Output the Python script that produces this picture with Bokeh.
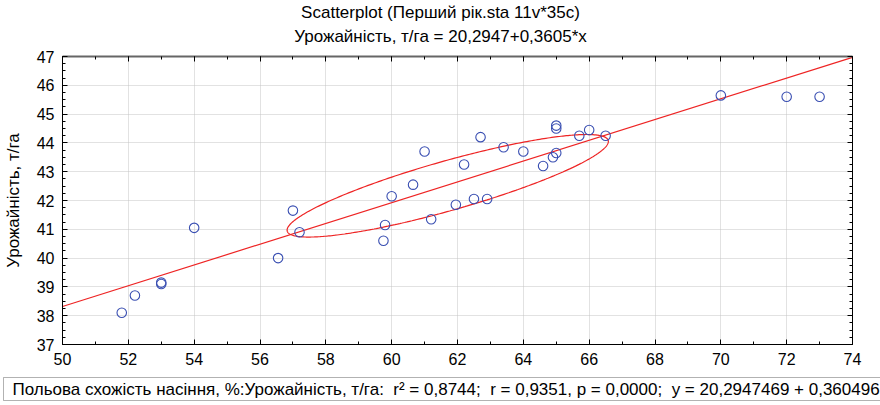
import numpy as np
from bokeh.plotting import figure
from bokeh.layouts import column
from bokeh.models import Range1d, LinearAxis, FixedTicker, Label, BoxAnnotation
from bokeh.embed import file_html
from bokeh.resources import INLINE

# ---- data ----
germination = [51.8, 52.2, 53.0, 53.0, 54.0, 56.55, 57.0, 57.2, 59.75, 59.8,
               60.0, 60.65, 61.0, 61.2, 61.95, 62.2, 62.5, 62.7, 62.9, 63.4,
               64.0, 64.6, 64.9, 65.0, 65.0, 65.0, 65.7, 66.0, 66.5, 70.0,
               72.0, 73.0]
yield_t = [38.1, 38.7, 39.1, 39.15, 41.05, 40.0, 41.65, 40.9, 40.6, 41.15,
           42.15, 42.55, 43.7, 41.35, 41.85, 43.25, 42.05, 44.2, 42.05, 43.85,
           43.7, 43.2, 43.5, 43.65, 44.5, 44.6, 44.25, 44.45, 44.25, 45.65,
           45.6, 45.6]

# regression line (from the chart's caption)
intercept = 20.2947
slope = 0.3605

# ellipse shape (centred on the data means)
ellipse_half_x = 4.88
ellipse_half_y = 1.78
ellipse_r = 0.865

x_ticks = list(range(50, 76, 2))
x_minor = list(range(50, 75, 1))
y_ticks = list(range(37, 48))
y_minor = [37 + 0.25 * i for i in range(41)]

title1 = "Scatterplot (Перший рік.sta 11v*35c)"
title2 = "Урожайність, т/га = 20,2947+0,3605*x"
y_label = "Урожайність, т/га"
footer = ("Польова схожість насіння, %:Урожайність, т/га:\u00a0 r² = 0,8744;\u00a0 "
          "r = 0,9351, p = 0,0000;\u00a0 y = 20,2947469 + 0,360496")

FONT = "Liberation Sans"
FS_TICK = "16px"
FS_TEXT = "17px"
BLUE = "#3a4fb2"
RED = "#ee2424"
W = 880
H_TOP, H_MAIN, H_FOOT = 46, 326, 33


def strip_fig(h):
    f = figure(width=W, height=h, x_range=Range1d(0, W), y_range=Range1d(0, h),
               output_backend="svg", toolbar_location=None, min_border=0,
               x_axis_location=None, y_axis_location=None, frame_align=False)
    f.outline_line_color = None
    f.xgrid.visible = False
    f.ygrid.visible = False
    f.background_fill_color = "white"
    f.border_fill_color = "white"
    return f


# ---- titles strip ----
pt = strip_fig(H_TOP)
for txt, yy in ((title1, H_TOP - 12), (title2, H_TOP - 36)):
    pt.add_layout(Label(x=W / 2, y=yy, text=txt, text_font=FONT, text_font_size=FS_TEXT,
                        text_align="center", text_baseline="middle", text_color="black"))

# ---- main plot ----
p = figure(width=W, height=H_MAIN, x_range=Range1d(50, 74), y_range=Range1d(37, 47),
           output_backend="svg", toolbar_location=None, frame_align=False,
           min_border_left=62, min_border_right=28, min_border_top=10, min_border_bottom=28,
           x_axis_location=None, y_axis_location=None)
p.outline_line_color = None
p.background_fill_color = "white"
p.border_fill_color = "white"


def make_axis(ticks, minor, labels=True):
    ax = LinearAxis(ticker=FixedTicker(ticks=ticks, minor_ticks=minor))
    ax.major_tick_in = 5
    ax.major_tick_out = 0
    ax.minor_tick_in = 3
    ax.minor_tick_out = 0
    ax.axis_line_color = "black"
    ax.major_tick_line_color = "black"
    ax.minor_tick_line_color = "black"
    ax.major_label_text_font = FONT
    ax.major_label_text_font_size = FS_TICK
    ax.major_label_text_color = "black"
    if not labels:
        ax.major_label_text_font_size = "0px"
        ax.major_label_text_alpha = 0
        ax.major_label_standoff = 0
    return ax


xb = make_axis(x_ticks, x_minor)
xb.major_label_standoff = 8
p.add_layout(xb, "below")

yl = make_axis(y_ticks, y_minor)
yl.major_label_standoff = 8
yl.axis_label = y_label
yl.axis_label_text_font = FONT
yl.axis_label_text_font_size = FS_TEXT
yl.axis_label_text_font_style = "normal"
yl.axis_label_text_color = "black"
yl.axis_label_standoff = 11
p.add_layout(yl, "left")

xt = make_axis(x_ticks, x_minor, labels=False)
xt.axis_line_color = "#666666"
xt.axis_line_width = 2
p.add_layout(xt, "above")

yr = make_axis(y_ticks, y_minor, labels=False)
p.add_layout(yr, "right")

p.xgrid.ticker = FixedTicker(ticks=x_ticks)
p.ygrid.ticker = FixedTicker(ticks=y_ticks)
for g in (p.xgrid, p.ygrid):
    g.grid_line_color = "#c4c4c4"
    g.grid_line_dash = "1 1"
    g.grid_line_width = 1

# regression line across the x range
xr = np.array([p.x_range.start, p.x_range.end])
p.line(xr, intercept + slope * xr, line_color=RED, line_width=1.2)

# ellipse centred on the data means
xs = np.array(germination)
ys = np.array(yield_t)
t = np.linspace(0, 2 * np.pi, 400)
ex = xs.mean() + ellipse_half_x * np.cos(t)
ey = ys.mean() + ellipse_half_y * (ellipse_r * np.cos(t)
                                   + np.sqrt(1 - ellipse_r ** 2) * np.sin(t))
p.line(ex, ey, line_color=RED, line_width=1.2)

p.scatter(germination, yield_t, size=9.5, marker="circle", fill_color=None,
          line_color=BLUE, line_width=1.1)

# ---- footer strip ----
pf = strip_fig(H_FOOT)
pf.add_layout(BoxAnnotation(left=3, right=W + 20, bottom=H_FOOT - 28, top=H_FOOT - 5,
                            fill_color="white", fill_alpha=1, line_color="black",
                            line_width=1))
pf.add_layout(Label(x=12, y=H_FOOT - 17, text=footer, text_font=FONT,
                    text_font_size=FS_TEXT, text_align="left", text_baseline="middle",
                    text_color="black"))

layout = column(pt, p, pf, spacing=0)
open("out.html", "w").write(file_html(layout, INLINE))
